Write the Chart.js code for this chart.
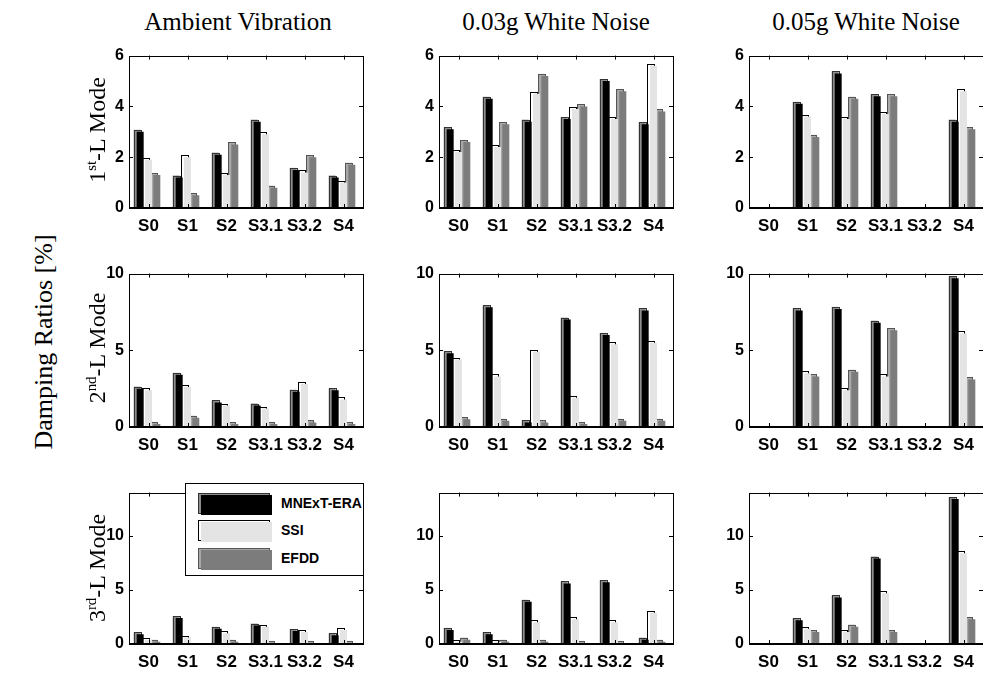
<!DOCTYPE html>
<html>
<head>
<meta charset="utf-8">
<script src="https://cdn.jsdelivr.net/npm/chart.js@4/dist/chart.umd.min.js"></script>
<style>
  html, body { margin: 0; padding: 0; background: #fff; overflow: hidden; }
  body { width: 983px; height: 676px; position: relative; }
  .panel { position: absolute; }
  .txt { position: absolute; font-family: "Liberation Serif", "Times New Roman", serif; color: #000; white-space: nowrap; transform: translate(-50%, -50%); }
  .rot { transform: translate(-50%, -50%) rotate(-90deg); }
  .txt sup { font-size: 62%; vertical-align: 0.55em; line-height: 0; }
  #legend { position: absolute; left: 185px; top: 483px; width: 177px; height: 91px; border: 1px solid #000; background: #fff; z-index: 5; }
  .entry { position: absolute; left: 0; width: 100%; height: 22px; }
  .sw-back { position: absolute; left: 12px; top: 0; width: 70px; height: 19px; border: 1px solid #333; }
  .sw-front { position: absolute; left: 15px; top: 2px; width: 71px; height: 20px; }
  .lab { position: absolute; left: 95px; top: 2px; font: bold 14px "Liberation Sans", Arial, sans-serif; }
</style>
</head>
<body>
<div id="legend"></div>
<script>
  // categories and series
  const categories = ["S0", "S1", "S2", "S3.1", "S3.2", "S4"];
  const methods = ["MNExT-ERA", "SSI", "EFDD"];
  const tests = ["Ambient Vibration", "0.03g White Noise", "0.05g White Noise"];
  const modes = ["1", "2", "3"];
  const modeSup = ["st", "nd", "rd"];

  // damping ratios [%], rows: MNExT-ERA, SSI, EFDD
  const ambientMode1 = [
    [3.0, 1.2, 2.1, 3.4, 1.5, 1.2],
    [1.9, 2.0, 1.3, 2.9, 1.4, 1.0],
    [1.3, 0.5, 2.5, 0.8, 2.0, 1.7],
  ];
  const noise03Mode1 = [
    [3.1, 4.3, 3.4, 3.5, 5.0, 3.3],
    [2.2, 2.4, 4.5, 3.9, 3.5, 5.6],
    [2.6, 3.3, 5.2, 4.0, 4.6, 3.8],
  ];
  const noise05Mode1 = [
    [0, 4.1, 5.3, 4.4, 0, 3.4],
    [0, 3.6, 3.5, 3.7, 0, 4.6],
    [0, 2.8, 4.3, 4.4, 0, 3.1],
  ];
  const ambientMode2 = [
    [2.5, 3.4, 1.6, 1.4, 2.3, 2.4],
    [2.4, 2.6, 1.4, 1.2, 2.8, 1.8],
    [0.2, 0.6, 0.2, 0.2, 0.3, 0.2],
  ];
  const noise03Mode2 = [
    [4.8, 7.8, 0.3, 7.0, 6.0, 7.6],
    [4.4, 3.3, 4.9, 1.9, 5.4, 5.5],
    [0.5, 0.4, 0.3, 0.2, 0.4, 0.4],
  ];
  const noise05Mode2 = [
    [0, 7.6, 7.7, 6.8, 0, 9.7],
    [0, 3.5, 2.4, 3.3, 0, 6.1],
    [0, 3.3, 3.6, 6.3, 0, 3.1],
  ];
  const ambientMode3 = [
    [0.9, 2.4, 1.4, 1.7, 1.2, 0.8],
    [0.4, 0.6, 1.0, 1.6, 1.1, 1.3],
    [0.2, 0, 0.2, 0.1, 0.1, 0.1],
  ];
  const noise03Mode3 = [
    [1.3, 0.9, 3.9, 5.6, 5.7, 0.4],
    [0.2, 0.2, 2.0, 2.3, 2.0, 2.9],
    [0.4, 0.2, 0.2, 0.1, 0.1, 0.2],
  ];
  const noise05Mode3 = [
    [0, 2.2, 4.3, 7.9, 0, 13.4],
    [0, 1.4, 1.1, 4.7, 0, 8.4],
    [0, 1.1, 1.6, 1.1, 0, 2.3],
  ];

  // y axis per row
  const yMax = [6, 10, 14];
  const yStep = [2, 5, 5];

  const panels = [
    [ambientMode1, noise03Mode1, noise05Mode1],
    [ambientMode2, noise03Mode2, noise05Mode2],
    [ambientMode3, noise03Mode3, noise05Mode3],
  ];

  // layout
  const colLeft = [129, 439, 749];
  const plotW = 234;
  const rowTop = [51, 269, 488];
  const rowBottom = [208, 427, 644];
  const padL = 46, padT = 10, padR = 6, padB = 30;

  const frontColors = ["#000000", "#e4e4e4", "#7c7c7c"];
  const backColors = ["#8e8e8e", "#ffffff", "#a8a8a8"];
  const backStroke = ["#333333", "#000000", "#555555"];

  // fake 3d face behind each bar
  const barShadow = {
    id: "barShadow",
    beforeDatasetDraw(chart, args) {
      const ctx = chart.ctx;
      const i = args.index;
      ctx.save();
      args.meta.data.forEach((bar, j) => {
        if (!chart.data.datasets[i].data[j]) return;
        const p = bar.getProps(["x", "y", "base", "width"], true);
        const x = p.x - p.width / 2 - 3;
        const y = p.y - 2;
        const h = p.base - y;
        ctx.fillStyle = backColors[i];
        ctx.fillRect(x, y, p.width, h);
        ctx.strokeStyle = backStroke[i];
        ctx.lineWidth = 1;
        ctx.strokeRect(Math.round(x) + 0.5, Math.round(y) + 0.5, Math.round(p.width), Math.round(h));
      });
      ctx.restore();
    },
  };

  // box and inward ticks
  const frame = {
    id: "frame",
    afterDatasetsDraw(chart) {
      const ctx = chart.ctx;
      const a = chart.chartArea;
      const xs = chart.scales.x, ys = chart.scales.y;
      ctx.save();
      ctx.strokeStyle = "#000";
      ctx.lineWidth = 1;
      ctx.strokeRect(Math.round(a.left) + 0.5, Math.round(a.top) + 0.5, Math.round(a.right - a.left), Math.round(a.bottom - a.top));
      ctx.beginPath();
      xs.ticks.forEach((t, k) => {
        const px = Math.round(xs.getPixelForTick(k)) + 0.5;
        ctx.moveTo(px, a.top); ctx.lineTo(px, a.top + 4);
        ctx.moveTo(px, a.bottom); ctx.lineTo(px, a.bottom - 4);
      });
      ys.ticks.forEach((t) => {
        const py = Math.round(ys.getPixelForValue(t.value)) + 0.5;
        ctx.moveTo(a.left, py); ctx.lineTo(a.left + 4, py);
        ctx.moveTo(a.right, py); ctx.lineTo(a.right - 4, py);
      });
      ctx.stroke();
      ctx.lineWidth = 2;
      ctx.beginPath();
      ctx.moveTo(a.left, Math.round(a.bottom));
      ctx.lineTo(a.right, Math.round(a.bottom));
      ctx.stroke();
      ctx.restore();
    },
  };

  panels.forEach((row, r) => {
    row.forEach((values, c) => {
      const wrap = document.createElement("div");
      wrap.className = "panel";
      const w = plotW + padL + padR;
      const h = rowBottom[r] - rowTop[r] + padT + padB;
      wrap.style.left = colLeft[c] - padL + "px";
      wrap.style.top = rowTop[r] - padT + "px";
      wrap.style.width = w + "px";
      wrap.style.height = h + "px";
      const canvas = document.createElement("canvas");
      wrap.appendChild(canvas);
      document.body.appendChild(wrap);

      new Chart(canvas, {
        type: "bar",
        data: {
          labels: categories,
          datasets: methods.map((m, i) => ({
            label: m,
            data: values[i],
            backgroundColor: frontColors[i],
            borderWidth: 0,
            barPercentage: 0.84,
            categoryPercentage: 0.64,
          })),
        },
        options: {
          responsive: true,
          maintainAspectRatio: false,
          animation: false,
          layout: { padding: { top: padT, right: padR, left: 0, bottom: 0 } },
          plugins: { legend: { display: false }, tooltip: { enabled: false } },
          scales: {
            x: {
              grid: { display: false, drawTicks: false },
              border: { display: false },
              ticks: {
                autoSkip: false,
                maxRotation: 0,
                padding: 8,
                color: "#000",
                font: { family: "Liberation Sans", weight: "bold", size: 17 },
              },
              afterFit(scale) { scale.height = padB; },
            },
            y: {
              min: 0,
              max: yMax[r],
              grid: { display: false, drawTicks: false },
              border: { display: false },
              ticks: {
                stepSize: yStep[r],
                padding: 5,
                color: "#000",
                font: { family: "Liberation Sans", weight: "bold", size: 16 },
              },
              afterBuildTicks(scale) {
                scale.ticks = scale.ticks.filter((t) => t.value % yStep[r] === 0);
              },
              afterFit(scale) { scale.width = padL; },
            },
          },
        },
        plugins: [barShadow, frame],
      });
    });
  });

  // column titles
  const titleX = [238, 556, 866];
  tests.forEach((t, c) => {
    const d = document.createElement("div");
    d.className = "txt";
    d.style.left = titleX[c] + "px";
    d.style.top = "22px";
    d.style.fontSize = "25px";
    d.textContent = t;
    document.body.appendChild(d);
  });

  // row labels
  const rowLabelY = [130, 348, 568];
  modes.forEach((m, r) => {
    const d = document.createElement("div");
    d.className = "txt rot";
    d.style.left = "97px";
    d.style.top = rowLabelY[r] + "px";
    d.style.fontSize = "24px";
    d.innerHTML = m + "<sup>" + modeSup[r] + "</sup>-L Mode";
    document.body.appendChild(d);
  });

  const yTitle = document.createElement("div");
  yTitle.className = "txt rot";
  yTitle.style.left = "44px";
  yTitle.style.top = "342px";
  yTitle.style.fontSize = "26px";
  yTitle.textContent = "Damping Ratios [%]";
  document.body.appendChild(yTitle);

  // legend
  const legend = document.getElementById("legend");
  const entryTop = [9, 36, 64];
  methods.forEach((m, i) => {
    const e = document.createElement("div");
    e.className = "entry";
    e.style.top = entryTop[i] + "px";
    const back = document.createElement("div");
    back.className = "sw-back";
    back.style.background = backColors[i];
    back.style.borderColor = backStroke[i];
    const front = document.createElement("div");
    front.className = "sw-front";
    front.style.background = frontColors[i];
    const lab = document.createElement("div");
    lab.className = "lab";
    lab.textContent = m;
    e.appendChild(back);
    e.appendChild(front);
    e.appendChild(lab);
    legend.appendChild(e);
  });
</script>
</body>
</html>
